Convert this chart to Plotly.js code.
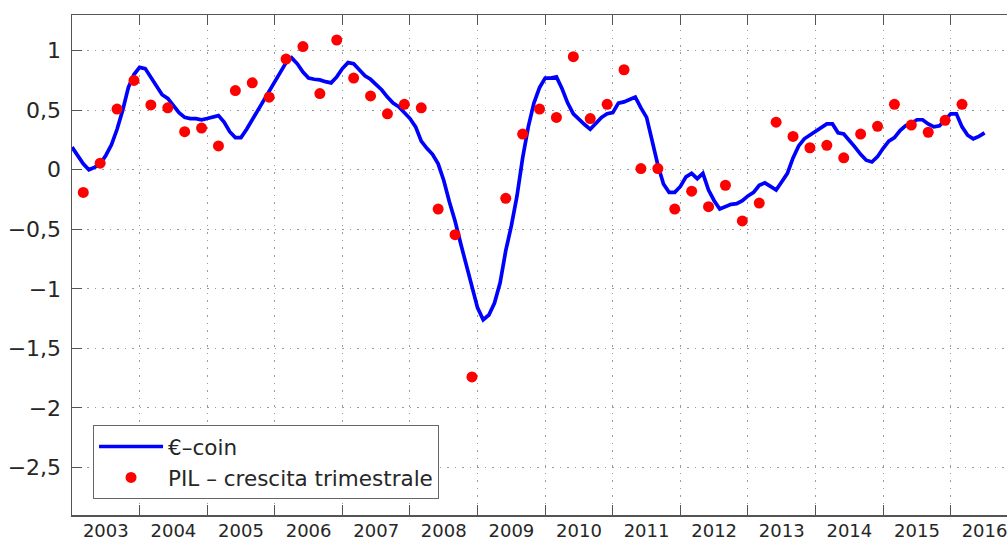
<!DOCTYPE html>
<html>
<head>
<meta charset="utf-8">
<script src="https://cdn.plot.ly/plotly-3.0.1.min.js"></script>
<style>html,body{margin:0;padding:0;overflow:hidden;background:#fff}</style>
</head>
<body>
<div id="chart"></div>
<script>
// Monthly €-coin values, Jan 2003 onward
const startYear = 2003;
const ecoin = [
 0.19,0.12,0.05,0.00,0.02,0.05,0.12,0.21,0.34,0.50,0.69,0.80,
 0.86,0.85,0.78,0.70,0.63,0.60,0.54,0.48,0.44,0.43,0.43,0.42,
 0.43,0.44,0.455,0.40,0.32,0.27,0.27,0.34,0.42,0.50,0.58,0.66,
 0.74,0.82,0.90,0.94,0.89,0.82,0.77,0.76,0.755,0.74,0.73,0.78,
 0.85,0.90,0.89,0.84,0.79,0.76,0.72,0.67,0.61,0.56,0.53,0.48,
 0.43,0.36,0.24,0.18,0.13,0.05,-0.09,-0.27,-0.43,-0.62,-0.80,-0.98,
 -1.16,-1.26,-1.22,-1.12,-0.95,-0.68,-0.47,-0.22,0.10,0.36,0.56,0.69,
 0.77,0.77,0.78,0.68,0.56,0.47,0.42,0.38,0.34,0.39,0.44,0.47,
 0.48,0.56,0.57,0.59,0.61,0.52,0.44,0.24,0.04,-0.12,-0.19,-0.19,
 -0.14,-0.06,-0.03,-0.075,-0.03,-0.17,-0.26,-0.33,-0.31,-0.29,-0.285,-0.26,
 -0.22,-0.19,-0.13,-0.11,-0.14,-0.17,-0.10,-0.03,0.10,0.20,0.26,0.29,
 0.32,0.35,0.385,0.385,0.31,0.30,0.25,0.19,0.13,0.08,0.065,0.11,
 0.18,0.24,0.27,0.33,0.37,0.39,0.42,0.42,0.385,0.36,0.37,0.42,
 0.47,0.47,0.36,0.29,0.26,0.28,0.31
];
// Quarterly GDP growth (q/q), 2003Q1 onward; 2009Q1 falls below the visible range
const pil = [
 -0.19,0.055,0.51,0.75,
 0.545,0.52,0.32,0.35,
 0.20,0.665,0.73,0.61,
 0.93,1.035,0.64,1.09,
 0.77,0.62,0.47,0.55,
 0.52,-0.33,-0.545,-1.74,
 null,-0.24,0.30,0.51,
 0.44,0.95,0.43,0.55,
 0.84,0.01,0.01,-0.33,
 -0.18,-0.31,-0.13,-0.43,
 -0.28,0.40,0.28,0.185,
 0.205,0.10,0.30,0.365,
 0.55,0.375,0.315,0.415,
 0.55
];
const yearTicks = [2004,2005,2006,2007,2008,2009,2010,2011,2012,2013,2014,2015,2016];
const yearLabelPos = [2003.5,2004.5,2005.5,2006.5,2007.5,2008.5,2009.5,2010.5,2011.5,2012.5,2013.5,2014.5,2015.5,2016.5];
const yearLabels = ["2003","2004","2005","2006","2007","2008","2009","2010","2011","2012","2013","2014","2015","2016"];
const yTickVals = [-2.5,-2,-1.5,-1,-0.5,0,0.5,1];
const yTickText = ["−2,5","−2","−1,5","−1","−0,5","0","0,5","1"];

const xLine = ecoin.map((v,i)=>startYear + i/12);
const xDots = pil.map((v,i)=>startYear + (3*i+2)/12);
const xRange = [2003, 2016.832];
const font = "DejaVu Sans, Arial, sans-serif";

const traces = [
 {x:xLine, y:ecoin, type:'scatter', mode:'lines', name:'€–coin',
  line:{color:'#0000ff', width:3.7}, legendgroup:'a', xaxis:'x', yaxis:'y'},
 {x:xDots, y:pil, type:'scatter', mode:'markers', name:'PIL – crescita trimestrale',
  marker:{color:'#ff0000', size:11}, legendgroup:'b', xaxis:'x2', yaxis:'y'}
];

const layout = {
 width:1007, height:542,
 margin:{l:72, r:0, t:15, b:27},
 paper_bgcolor:'#fff', plot_bgcolor:'#fff',
 font:{family:font, color:'#262626', size:21},
 showlegend:true,
 legend:{x:0.0225, y:0.18, xanchor:'left', yanchor:'top',
   bordercolor:'#666', borderwidth:1, bgcolor:'#fff',
   font:{family:font, size:21.5, color:'#262626'},
   traceorder:'grouped', tracegroupgap:0, itemwidth:64},
 xaxis:{range:xRange, type:'linear', tickmode:'array', tickvals:yearTicks,
   ticktext:yearTicks.map(()=> ''), ticks:'inside', ticklen:10, tickcolor:'#555', tickwidth:1,
   showline:true, linecolor:'#555', linewidth:1.5, mirror:'ticks',
   showgrid:true, gridcolor:'#9a9a9a', gridwidth:1, griddash:'1.5px,6px',
   zeroline:false, fixedrange:true},
 xaxis2:{range:xRange, type:'linear', overlaying:'x', side:'bottom', tickmode:'array',
   tickvals:yearLabelPos, ticktext:yearLabels, ticks:'', showline:false, showgrid:false,
   zeroline:false, tickfont:{family:font, size:18, color:'#262626'}, ticklabelstandoff:3,
   ticklabeloverflow:'allow'},
 yaxis:{range:[-2.9,1.3], tickmode:'array', tickvals:yTickVals, ticktext:yTickText,
   ticks:'inside', ticklen:10, tickcolor:'#555', tickwidth:1,
   showline:true, linecolor:'#555', linewidth:1.5, mirror:false,
   showgrid:true, gridcolor:'#9a9a9a', gridwidth:1, griddash:'1.5px,6px',
   zeroline:false, tickfont:{family:font, size:22, color:'#262626'}, ticklabelstandoff:5}
};

Plotly.newPlot('chart', traces, layout, {displayModeBar:false, staticPlot:true});
</script>
</body>
</html>
